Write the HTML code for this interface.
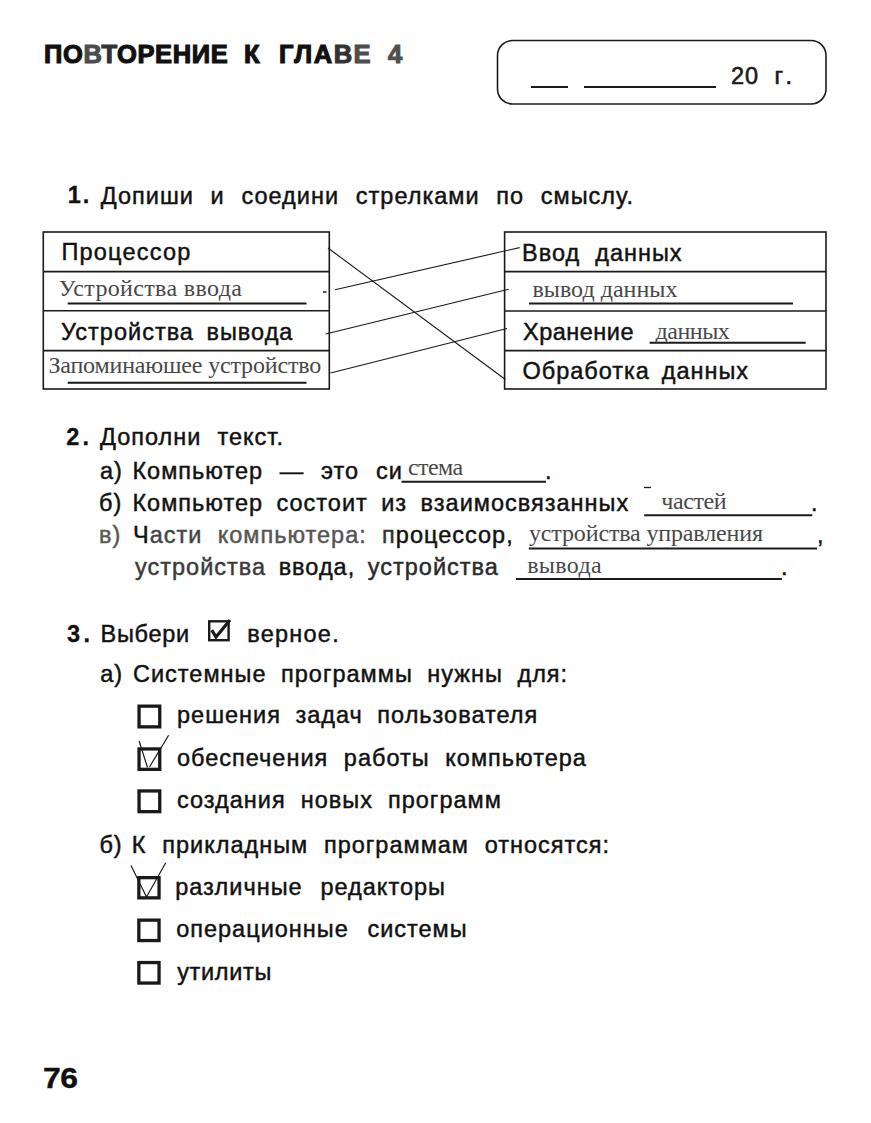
<!DOCTYPE html>
<html><head><meta charset="utf-8"><style>
html,body{margin:0;padding:0;background:#fff;}
body{width:871px;height:1123px;position:relative;overflow:hidden;font-family:'Liberation Sans', sans-serif;}
.t{position:absolute;white-space:pre;line-height:1;}
svg{position:absolute;left:0;top:0;}
</style></head><body>
<svg width="871" height="1123" viewBox="0 0 871 1123">
<g fill="none" stroke="#1a1a1a">
<rect x="497.5" y="40.5" width="328.5" height="63.5" rx="15" ry="15" stroke-width="1.6"/>
<line x1="531" y1="87" x2="568" y2="87" stroke-width="2"/>
<line x1="584" y1="87" x2="716" y2="87" stroke-width="2"/>
<!-- left table -->
<rect x="43.3" y="232" width="286" height="157" stroke-width="1.6"/>
<line x1="43" y1="271.6" x2="329.5" y2="271.6" stroke-width="1.6"/>
<line x1="43" y1="310.8" x2="329.5" y2="310.8" stroke-width="1.6"/>
<line x1="43" y1="350.6" x2="329.5" y2="350.6" stroke-width="1.6"/>
<!-- right table -->
<rect x="504.6" y="232" width="321.4" height="157" stroke-width="1.6"/>
<line x1="504.6" y1="271.6" x2="826" y2="271.6" stroke-width="1.6"/>
<line x1="504.6" y1="311" x2="826" y2="311" stroke-width="1.6"/>
<line x1="504.6" y1="350.6" x2="826" y2="350.6" stroke-width="1.6"/>
<!-- answer underlines in table -->
<line x1="67.7" y1="303.6" x2="306.5" y2="303.6" stroke-width="2"/>
<line x1="67.7" y1="382.7" x2="306.5" y2="382.7" stroke-width="2"/>
<line x1="529" y1="303.6" x2="793" y2="303.6" stroke-width="2"/>
<line x1="649.6" y1="342.7" x2="805.7" y2="342.7" stroke-width="2"/>
<line x1="323" y1="292" x2="326.5" y2="292" stroke-width="1.5"/>
<!-- connecting lines -->
<line x1="328" y1="248" x2="505.4" y2="379.5" stroke-width="1.1"/>
<line x1="335" y1="289.7" x2="519.6" y2="247.6" stroke-width="1.1"/>
<line x1="325.7" y1="334" x2="508.6" y2="289.2" stroke-width="1.1"/>
<line x1="330.5" y1="373" x2="507" y2="328.5" stroke-width="1.1"/>
<!-- section 2 underlines -->
<line x1="401.5" y1="481.8" x2="546" y2="481.8" stroke-width="2"/>
<line x1="644.2" y1="515.2" x2="812.3" y2="515.2" stroke-width="2"/>
<line x1="644" y1="487.5" x2="651" y2="487.5" stroke-width="1.3"/>
<line x1="528.8" y1="548.6" x2="817" y2="548.6" stroke-width="2"/>
<line x1="515.9" y1="579" x2="781.8" y2="579" stroke-width="2"/>
<!-- section 3 icon -->
<rect x="209.2" y="621.3" width="19.4" height="18.9" stroke-width="2.4"/>
<path d="M211.8 630.2 L216 637 L230 620" stroke-width="3.2" stroke-linecap="butt" stroke-linejoin="miter"/>
<!-- checkboxes -->
<rect x="139.05" y="706.15" width="20.70" height="20.70" stroke-width="3.3"/>
<rect x="139.05" y="748.95" width="20.70" height="20.40" stroke-width="3.3"/>
<rect x="139.05" y="790.95" width="20.70" height="20.70" stroke-width="3.3"/>
<rect x="138.85" y="877.65" width="20.20" height="20.20" stroke-width="3.3"/>
<rect x="138.85" y="920.15" width="20.20" height="20.40" stroke-width="3.3"/>
<rect x="138.85" y="962.55" width="20.20" height="20.50" stroke-width="3.3"/>
<!-- ticks -->
<path d="M139.1 741 L147.5 767.5 M149.5 767 L168.6 735.2" stroke-width="1.2"/>
<path d="M131 865.6 L146.5 897 L165.7 862.8" stroke-width="1.2"/>
</g>
</svg>

<span class="t" id="t0" style="left:44.00px;top:42.01px;font-size:25.5px;color:#111;font-weight:bold;letter-spacing:0.61px;-webkit-text-stroke:1.1px #111;">ПО<span style="color:#4d4d4d;-webkit-text-stroke-color:#4d4d4d">В</span><span style="color:#333;-webkit-text-stroke-color:#333">Т</span>ОРЕНИЕ</span>
<span class="t" id="t1" style="left:244.00px;top:42.01px;font-size:25.5px;color:#111;font-weight:bold;-webkit-text-stroke:1.1px #111;">К</span>
<span class="t" id="t2" style="left:279.00px;top:42.01px;font-size:25.5px;color:#111;font-weight:bold;letter-spacing:1.50px;-webkit-text-stroke:1.1px #111;">ГЛА<span style="color:#333;-webkit-text-stroke-color:#333">В</span><span style="color:#4d4d4d;-webkit-text-stroke-color:#4d4d4d">Е</span></span>
<span class="t" id="t3" style="left:388.00px;top:42.01px;font-size:25.5px;color:#505050;font-weight:bold;-webkit-text-stroke:1.1px #505050;">4</span>
<span class="t" id="t4" style="left:731.00px;top:64.90px;font-size:23.5px;color:#1a1a1a;letter-spacing:1.00px;-webkit-text-stroke:0.6px #1a1a1a;">20</span>
<span class="t" id="t5" style="left:774.40px;top:64.90px;font-size:23.5px;color:#1a1a1a;letter-spacing:5.40px;-webkit-text-stroke:0.6px #1a1a1a;">г.</span>
<span class="t" id="t6" style="left:67.80px;top:184.10px;font-size:23.5px;color:#111;font-weight:bold;letter-spacing:1.90px;-webkit-text-stroke:0.3px #111;">1.</span>
<span class="t" id="t7" style="left:100.80px;top:185.00px;font-size:23.5px;color:#111;word-spacing:0.84px;letter-spacing:1.00px;-webkit-text-stroke:0.45px #111;">Допиши  и  соедини  стрелками  по  смыслу.</span>
<span class="t" id="t8" style="left:61.40px;top:241.30px;font-size:23.5px;color:#111;letter-spacing:1.21px;-webkit-text-stroke:0.45px #111;">Процессор</span>
<span class="t" id="t9" style="left:58.80px;top:275.50px;font-size:24px;color:#484848;font-family:'Liberation Serif', serif;letter-spacing:0.35px;">Устройства ввода</span>
<span class="t" id="t10" style="left:61.00px;top:321.30px;font-size:23.5px;color:#111;word-spacing:-1.25px;letter-spacing:1.00px;-webkit-text-stroke:0.45px #111;">Устройства  вывода</span>
<span class="t" id="t11" style="left:48.40px;top:353.40px;font-size:24px;color:#484848;font-family:'Liberation Serif', serif;letter-spacing:-0.17px;">Запоминаюшее устройство</span>
<span class="t" id="t12" style="left:522.00px;top:241.80px;font-size:23.5px;color:#111;letter-spacing:1.00px;-webkit-text-stroke:0.45px #111;">Ввод  данных</span>
<span class="t" id="t13" style="left:532.40px;top:276.90px;font-size:24px;color:#484848;font-family:'Liberation Serif', serif;letter-spacing:0.02px;">вывод данных</span>
<span class="t" id="t14" style="left:523.00px;top:321.30px;font-size:23.5px;color:#111;letter-spacing:0.50px;-webkit-text-stroke:0.45px #111;">Хранение</span>
<span class="t" id="t15" style="left:655.60px;top:319.20px;font-size:24px;color:#484848;font-family:'Liberation Serif', serif;letter-spacing:-0.50px;">данных</span>
<span class="t" id="t16" style="left:522.40px;top:360.30px;font-size:23.5px;color:#111;word-spacing:-1.65px;letter-spacing:1.00px;-webkit-text-stroke:0.45px #111;">Обработка  данных</span>
<span class="t" id="t17" style="left:66.20px;top:426.30px;font-size:23.5px;color:#111;font-weight:bold;letter-spacing:3.30px;-webkit-text-stroke:0.3px #111;">2.</span>
<span class="t" id="t18" style="left:100.00px;top:426.30px;font-size:23.5px;color:#111;word-spacing:0.50px;letter-spacing:1.00px;-webkit-text-stroke:0.45px #111;">Дополни  текст.</span>
<span class="t" id="t19" style="left:100.00px;top:459.90px;font-size:23.5px;color:#111;letter-spacing:1.00px;-webkit-text-stroke:0.45px #111;">а)</span>
<span class="t" id="t20" style="left:132.40px;top:459.90px;font-size:23.5px;color:#111;word-spacing:0.87px;letter-spacing:1.00px;-webkit-text-stroke:0.45px #111;">Компьютер  —  это  си</span>
<span class="t" id="t21" style="left:408.00px;top:455.40px;font-size:24px;color:#484848;font-family:'Liberation Serif', serif;letter-spacing:-0.60px;">стема</span>
<span class="t" id="t22" style="left:545.00px;top:459.90px;font-size:23.5px;color:#111;letter-spacing:1.00px;-webkit-text-stroke:0.45px #111;">.</span>
<span class="t" id="t23" style="left:99.00px;top:491.80px;font-size:23.5px;color:#111;letter-spacing:1.00px;-webkit-text-stroke:0.45px #111;">б)</span>
<span class="t" id="t24" style="left:132.40px;top:491.80px;font-size:23.5px;color:#111;word-spacing:-0.80px;letter-spacing:1.00px;-webkit-text-stroke:0.45px #111;">Компьютер  состоит  из  взаимосвязанных</span>
<span class="t" id="t25" style="left:661.20px;top:489.20px;font-size:24px;color:#484848;font-family:'Liberation Serif', serif;letter-spacing:-0.38px;">частей</span>
<span class="t" id="t26" style="left:811.00px;top:491.80px;font-size:23.5px;color:#111;letter-spacing:1.00px;-webkit-text-stroke:0.45px #111;">.</span>
<span class="t" id="t27" style="left:99.00px;top:523.80px;font-size:23.5px;color:#585858;letter-spacing:1.00px;-webkit-text-stroke:0.45px #585858;">в)</span>
<span class="t" id="t28" style="left:133.00px;top:523.80px;font-size:23.5px;color:#111;word-spacing:0.12px;letter-spacing:1.00px;-webkit-text-stroke:0.45px #111;">Ч<span style="color:#444;-webkit-text-stroke-color:#444">асти</span>  <span style="color:#555;-webkit-text-stroke-color:#555">компьютера:</span>  <span style="color:#333;-webkit-text-stroke-color:#333">п</span>роцессор,</span>
<span class="t" id="t29" style="left:529.00px;top:520.80px;font-size:24px;color:#484848;font-family:'Liberation Serif', serif;letter-spacing:-0.15px;">устройства управления</span>
<span class="t" id="t30" style="left:817.00px;top:523.80px;font-size:23.5px;color:#111;letter-spacing:1.00px;-webkit-text-stroke:0.45px #111;">,</span>
<span class="t" id="t31" style="left:135.00px;top:555.50px;font-size:23.5px;color:#111;word-spacing:-1.25px;letter-spacing:1.00px;-webkit-text-stroke:0.45px #111;"><span style="color:#3a3a3a;-webkit-text-stroke-color:#3a3a3a">устройства</span>  ввода,  <span style="color:#2a2a2a;-webkit-text-stroke-color:#2a2a2a">устройства</span></span>
<span class="t" id="t32" style="left:527.20px;top:553.10px;font-size:24px;color:#484848;font-family:'Liberation Serif', serif;letter-spacing:0.34px;">вывода</span>
<span class="t" id="t33" style="left:781.00px;top:555.50px;font-size:23.5px;color:#111;letter-spacing:1.00px;-webkit-text-stroke:0.45px #111;">.</span>
<span class="t" id="t34" style="left:67.00px;top:623.30px;font-size:23.5px;color:#111;font-weight:bold;letter-spacing:3.50px;-webkit-text-stroke:0.3px #111;">3.</span>
<span class="t" id="t35" style="left:100.60px;top:623.00px;font-size:23.5px;color:#111;letter-spacing:0.68px;-webkit-text-stroke:0.45px #111;">Выбери</span>
<span class="t" id="t36" style="left:247.20px;top:623.00px;font-size:23.5px;color:#111;letter-spacing:1.25px;-webkit-text-stroke:0.45px #111;">верное.</span>
<span class="t" id="t37" style="left:100.20px;top:662.50px;font-size:23.5px;color:#111;letter-spacing:1.00px;-webkit-text-stroke:0.45px #111;">а)</span>
<span class="t" id="t38" style="left:133.00px;top:662.50px;font-size:23.5px;color:#111;word-spacing:-0.27px;letter-spacing:1.00px;-webkit-text-stroke:0.45px #111;">Системные  программы  нужны  для:</span>
<span class="t" id="t39" style="left:177.00px;top:704.30px;font-size:23.5px;color:#111;word-spacing:-0.25px;letter-spacing:1.00px;-webkit-text-stroke:0.45px #111;">решения  задач  пользователя</span>
<span class="t" id="t40" style="left:177.00px;top:747.20px;font-size:23.5px;color:#111;word-spacing:0.28px;letter-spacing:1.00px;-webkit-text-stroke:0.45px #111;">обеспечения  работы  компьютера</span>
<span class="t" id="t41" style="left:177.00px;top:789.00px;font-size:23.5px;color:#111;letter-spacing:1.00px;-webkit-text-stroke:0.45px #111;">создания  новых  программ</span>
<span class="t" id="t42" style="left:99.40px;top:834.10px;font-size:23.5px;color:#111;letter-spacing:1.00px;-webkit-text-stroke:0.45px #111;">б)</span>
<span class="t" id="t43" style="left:131.80px;top:834.10px;font-size:23.5px;color:#111;word-spacing:0.33px;letter-spacing:1.00px;-webkit-text-stroke:0.45px #111;">К  прикладным  программам  относятся:</span>
<span class="t" id="t44" style="left:175.20px;top:875.60px;font-size:23.5px;color:#111;word-spacing:1.40px;letter-spacing:1.00px;-webkit-text-stroke:0.45px #111;">различные  редакторы</span>
<span class="t" id="t45" style="left:176.20px;top:918.20px;font-size:23.5px;color:#111;word-spacing:1.80px;letter-spacing:1.00px;-webkit-text-stroke:0.45px #111;">операционные  системы</span>
<span class="t" id="t46" style="left:177.20px;top:960.50px;font-size:23.5px;color:#111;letter-spacing:0.67px;-webkit-text-stroke:0.45px #111;">утилиты</span>
<span class="t" id="t47" style="left:43.20px;top:1063.42px;font-size:29.5px;color:#111;font-weight:bold;letter-spacing:-0.40px;-webkit-text-stroke:0.4px #111;transform:scaleX(1.08);transform-origin:0 0;">76</span>
</body></html>
